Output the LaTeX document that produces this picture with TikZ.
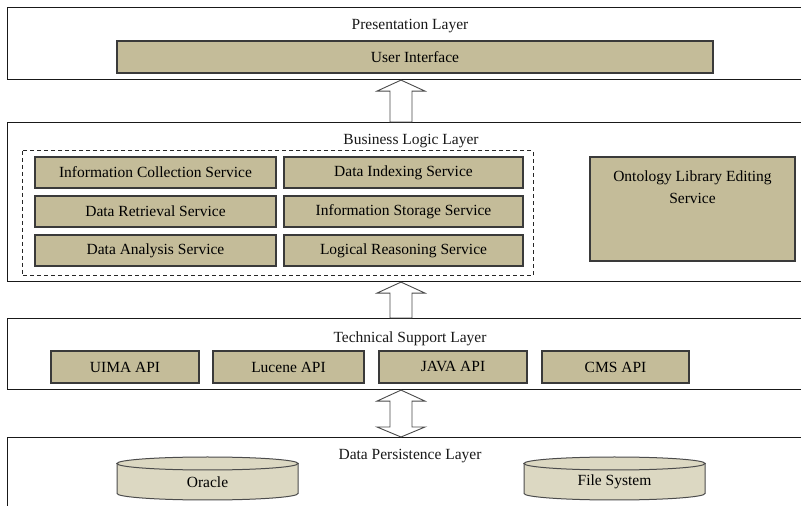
\documentclass[tikz,border=0pt]{standalone}
\usepackage{fontspec}
\setmainfont{Liberation Serif}
\usetikzlibrary{calc}
\definecolor{boxfill}{HTML}{C4BC99}
\definecolor{dbfill}{HTML}{DCD8C2}
\definecolor{boxline}{HTML}{3A3A3A}
\definecolor{arrowline}{HTML}{4A4A4A}
\begin{document}
\begin{tikzpicture}[x=1pt,y=1pt,
  every node/.style={font=\rmfamily\fontsize{15.5}{22}\selectfont, inner sep=0pt},
  layer/.style={draw=black!90, line width=1.1pt, fill=white, rectangle, anchor=north west},
  caption/.style={text=black!90},
  svc/.style={draw=boxline, fill=boxfill, line width=1.4pt, rectangle, minimum height=31pt},
  api/.style={svc, minimum height=32pt},
  dbnode/.style={rectangle, minimum width=181pt, minimum height=43pt},
  dbshape/.style={draw=black!70, fill=dbfill, line width=1pt},
  fatarrow/.style={draw=arrowline, fill=white, line width=0.9pt, line join=miter},
  groupbox/.style={draw=black!85, line width=1pt, dash pattern=on 4pt off 3pt}]
\useasboundingbox (0,0) rectangle (801,506);
\begin{scope}
\clip (0,0) rectangle (801,506);

% ---- layers
\node[layer, minimum width=805pt, minimum height=72pt] (pres) at (7,499) {};
\node[layer, minimum width=805pt, minimum height=159pt] (biz) at (7,384) {};
\node[layer, minimum width=805pt, minimum height=71pt] (tech) at (7,188) {};
\node[layer, minimum width=805pt, minimum height=90pt] (data) at (7,69) {};

% ---- presentation layer
\node[caption] (presT) at (410,479.5) {Presentation Layer};
\node[svc, minimum width=596pt, minimum height=32pt] (ui) at (415,449) {User Interface};

% ---- business logic layer
\node[caption] (bizT) at (411,364.5) {Business Logic Layer};
\draw[groupbox] (22,355) rectangle (533,230);
\node[svc, minimum width=241pt] (s1) at (155.5,333.5) {Information Collection Service};
\node[svc, minimum width=239pt] (s2) at (403.5,333.5) {Data Indexing Service};
\node[svc, minimum width=241pt] (s3) at (155.5,294.5) {Data Retrieval Service};
\node[svc, minimum width=239pt] (s4) at (403.5,294.5) {Information Storage Service};
\node[svc, minimum width=241pt] (s5) at (155.5,255.5) {Data Analysis Service};
\node[svc, minimum width=239pt] (s6) at (403.5,255.5) {Logical Reasoning Service};
\node[svc, minimum width=205pt, minimum height=104pt] (onto) at (692.5,297) {};
\node[align=center] (ontoT) at (692.5,319) {Ontology Library Editing\\Service};

% ---- technical support layer
\node[caption] (techT) at (410,167.5) {Technical Support Layer};
\node[api, minimum width=148pt] (uima) at (125,139) {UIMA API};
\node[api, minimum width=151pt] (luc) at (288.5,139) {Lucene API};
\node[api, minimum width=148pt] (java) at (453,139) {JAVA API};
\node[api, minimum width=147pt] (cms) at (615.5,139) {CMS API};

% ---- data persistence layer
\node[caption] (dataT) at (410,49.5) {Data Persistence Layer};
\foreach \nm/\cx/\txt in {ora/207.5/Oracle, fs/614.5/File System}{
  \path[dbshape] (\cx-90.5,42.5) -- (\cx-90.5,12.5)
     arc[start angle=180, end angle=360, x radius=90.5pt, y radius=6.5pt]
     -- (\cx+90.5,42.5) -- cycle;
  \path[dbshape] (\cx,42.5) ellipse[x radius=90.5pt, y radius=6.5pt];
  \node[dbnode] (\nm) at (\cx,24) {\txt};
}

% ---- block arrows between the layers
\coordinate (ax) at (401,0);
\draw[fatarrow] (ax |- pres.south) -- ++(24,-11) -- ++(-13,0)
   -- ($(ax |- biz.north)+(11,0)$) -- ++(-22,0)
   -- ($(ax |- pres.south)+(-11,-11)$) -- ++(-13,0) -- cycle;
\draw[fatarrow] (ax |- biz.south) -- ++(24,-11) -- ++(-13,0)
   -- ($(ax |- tech.north)+(11,0)$) -- ++(-22,0)
   -- ($(ax |- biz.south)+(-11,-11)$) -- ++(-13,0) -- cycle;
\draw[fatarrow] (ax |- tech.south) -- ++(24,-11) -- ++(-13,0)
   -- ($(ax |- data.north)+(11,10)$) -- ++(13,0) -- (ax |- data.north)
   -- ++(-24,10) -- ++(13,0)
   -- ($(ax |- tech.south)+(-11,-11)$) -- ++(-13,0) -- cycle;
\end{scope}
\end{tikzpicture}
\end{document}
